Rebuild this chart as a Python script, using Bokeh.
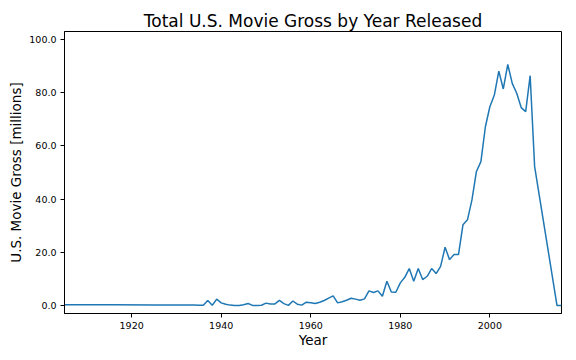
from bokeh.plotting import figure
from bokeh.models import Range1d, FixedTicker, PrintfTickFormatter
from bokeh.embed import file_html
from bokeh.resources import INLINE

years = [1905, 1916, 1925, 1932, 1934, 1935,
         1936, 1937, 1938, 1939, 1940, 1941, 1942, 1943, 1944, 1945,
         1946, 1947, 1948, 1949, 1950, 1951, 1952, 1953, 1954, 1955,
         1956, 1957, 1958, 1959, 1960, 1961, 1962, 1963, 1964, 1965,
         1966, 1967, 1968, 1969, 1970, 1971, 1972, 1973, 1974, 1975,
         1976, 1977, 1978, 1979, 1980, 1981, 1982, 1983, 1984, 1985,
         1986, 1987, 1988, 1989, 1990, 1991, 1992, 1993, 1994, 1995,
         1996, 1997, 1998, 1999, 2000, 2001, 2002, 2003, 2004, 2005,
         2006, 2007, 2008, 2009, 2010, 2015, 2016]
gross = [0.3, 0.25, 0.2, 0.15, 0.2, 0.1,
         0.1, 1.9, 0.1, 2.4, 1.0, 0.5, 0.15, 0.05, 0.05, 0.3,
         0.75, 0.05, 0.05, 0.1, 0.9, 0.6, 0.6, 1.9, 0.7, 0.05,
         1.7, 0.5, 0.15, 1.25, 1.0, 0.75, 1.25, 1.9, 2.75, 3.6,
         1.0, 1.4, 2.0, 2.75, 2.4, 2.0, 2.5, 5.5, 4.9, 5.5,
         3.5, 9.1, 5.1, 5.0, 8.5, 10.6, 13.9, 9.1, 13.9, 9.75,
         11.0, 13.9, 12.0, 14.7, 21.9, 17.25, 19.2, 19.2, 30.4, 32.2,
         39.7, 50.4, 54.1, 67.2, 74.7, 79.1, 88.1, 81.4, 90.6, 83.5,
         79.8, 74.4, 72.9, 86.4, 52.2, 0.0, 0.0]

x_ticks = [1920, 1940, 1960, 1980, 2000]
y_ticks = [0, 20, 40, 60, 80, 100]

FONT = "DejaVu Sans"

p = figure(frame_width=497, frame_height=282, output_backend="svg", toolbar_location=None,
           x_range=Range1d(1905, 2016), y_range=Range1d(-3, 103),
           title="Total U.S. Movie Gross by Year Released",
           min_border_left=64, min_border_right=2, min_border_top=31, min_border_bottom=37)

p.line(years, gross, line_color="#1f77b4", line_width=1.5)

p.title.align = "center"
p.title.text_font = FONT
p.title.text_font_size = "17px"
p.title.text_font_style = "normal"
p.title.text_color = "black"
p.title.standoff = 2

p.grid.visible = False
p.outline_line_color = "black"
p.outline_line_width = 1
p.outline_line_alpha = 1

for ax in (p.xaxis[0], p.yaxis[0]):
    ax.axis_line_color = "black"
    ax.major_tick_line_color = "black"
    ax.major_tick_out = 4
    ax.major_tick_in = 0
    ax.minor_tick_line_color = None
    ax.major_label_text_font = FONT
    ax.major_label_text_font_size = "9.5px"
    ax.major_label_text_color = "black"
    ax.axis_label_text_font = FONT
    ax.axis_label_text_font_size = "13.5px"
    ax.axis_label_text_font_style = "normal"
    ax.axis_label_text_color = "black"
    ax.major_label_standoff = 4

p.xaxis[0].ticker = FixedTicker(ticks=x_ticks)
p.yaxis[0].ticker = FixedTicker(ticks=y_ticks)
p.yaxis[0].formatter = PrintfTickFormatter(format="%.1f")
p.xaxis[0].axis_label = "Year"
p.yaxis[0].axis_label = "U.S. Movie Gross [millions]"
p.xaxis[0].axis_label_standoff = 0
p.yaxis[0].axis_label_standoff = 2

open("out.html", "w").write(file_html(p, INLINE))
